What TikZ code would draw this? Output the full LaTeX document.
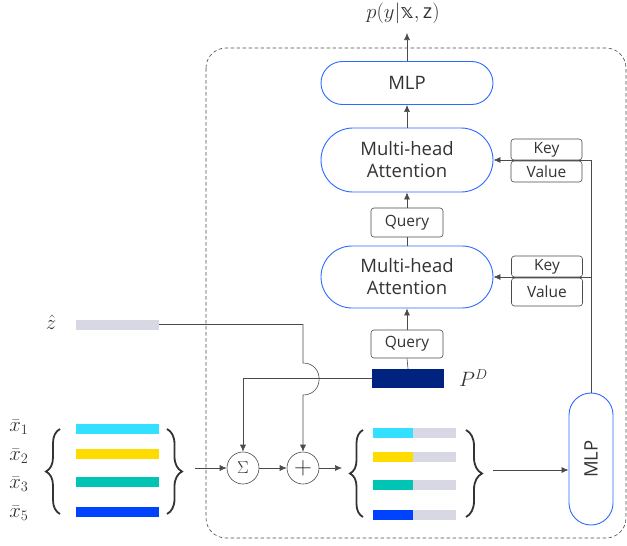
\documentclass[tikz,border=0pt]{standalone}
\usepackage{fontspec}
\setmainfont{Open Sans}
\newfontfamily\dvs{DejaVu Sans}
\usetikzlibrary{arrows.meta,decorations.pathreplacing,calc}
\definecolor{edge}{HTML}{4A4A4A}
\definecolor{blueb}{HTML}{2B6BFF}
\definecolor{txt}{HTML}{333333}
\definecolor{zgray}{HTML}{D8D8E4}
\definecolor{cA}{HTML}{33E0FF}
\definecolor{cB}{HTML}{FFDC00}
\definecolor{cC}{HTML}{00C4B4}
\definecolor{cD}{HTML}{0043FF}
\definecolor{navy}{HTML}{00237F}
\tikzset{
  pill/.style={draw=blueb, line width=0.9pt, fill=white, rounded corners=#1, text=txt, align=center, inner sep=0pt, font=\fontsize{18.5}{22}\selectfont},
  smallbox/.style={draw=edge, line width=0.6pt, rounded corners=3pt, fill=white, minimum width=71pt, inner sep=0pt, text=txt, font=\fontsize{15.5}{17}\selectfont},
  arr/.style={draw=edge, line width=0.6pt, -{Latex[length=7pt,width=6pt]}},
  ln/.style={draw=edge, line width=0.6pt},
  bar/.style={draw=none, inner sep=0pt, minimum height=10pt},
  mlabel/.style={text=txt, inner sep=0pt, font=\fontsize{20}{22}\selectfont},
  op/.style={circle, draw=edge, line width=0.6pt, minimum size=32pt, inner sep=0pt, text=txt, fill=white},
  brc/.style={draw=txt, line width=1.8pt, decorate, decoration={brace, amplitude=#1}},
  frame/.style={draw=edge, line width=0.6pt, dash pattern=on 3.5pt off 2.5pt, rounded corners=20pt}
}
\begin{document}
\begin{tikzpicture}[x=1pt,y=-1pt]
\useasboundingbox (0,0) rectangle (627,546);
% frame
\draw[frame] (206,48) rectangle (626,538);
% right column
\node[pill=21.5pt, minimum width=172pt, minimum height=43pt] (mlp) at (407,83) {MLP};
\node[pill=32pt, minimum width=172pt, minimum height=64pt] (mha1) at (407,160) {Multi-head\\Attention};
\node[pill=31pt, minimum width=172pt, minimum height=62pt] (mha2) at (407,277) {Multi-head\\Attention};
\node[smallbox, minimum width=72pt, minimum height=29pt] (query1) at (407,222.5) {Query};
\node[smallbox, minimum width=72pt, minimum height=28pt] (query2) at (407,344) {Query};
\node[bar, fill=navy, minimum width=72pt, minimum height=19pt] (pd) at (408,378.5) {};
\node[mlabel, anchor=west, font=\fontsize{22}{24}\selectfont] (pdl) at (459,378) {$P^D$};
\node[mlabel] (out) at (403,13) {$p(y|\hbox{\dvs 𝕩},\mathrm{z})$};
\coordinate (otip) at (407,33);
\node[pill=22pt, minimum width=44pt, minimum height=132pt] (mlp2) at (591,459) {\rotatebox{90}{MLP}};
% vertical connectors
\draw[arr] (mlp.north) -- (otip);
\draw[arr] (mha1.north) -- (mlp.south);
\draw[arr] (query1.north) -- (mha1.south);
\draw[ln] (mha2.north) -- (query1.south);
\draw[arr] (query2.north) -- (mha2.south);
\draw[ln] (pd.north) -- (query2.south);
% key/value feeds
\draw[arr] (mlp2.north) |- (mha1.east);
\draw[arr] (mlp2.north |- mha2.east) -- (mha2.east);
\node[smallbox, minimum height=21pt] (key1) at (546.5,149.5) {Key};
\node[smallbox, minimum height=21pt] (val1) at (546.5,171.5) {Value};
\node[smallbox, minimum height=21pt] (key2) at (547,266.5) {Key};
\node[smallbox, minimum height=28pt] (val2) at (547,292) {Value};
% z hat
\node[mlabel] (zl) at (51,322) {$\hat{z}$};
\node[bar, fill=zgray, minimum width=83pt] (zbar) at (117.5,324.5) {};
% operators
\node[op, font=\fontsize{16}{18}\selectfont] (sig) at (243,468) {$\Sigma$};
\node[op, font=\fontsize{30}{32}\selectfont] (plus) at (303,468) {$+$};
\coordinate (jA) at (303,363);
\coordinate (jB) at (303,395);
\draw[arr] (zbar.east) -| (jA) .. controls (324.5,363) and (324.5,395) .. (jB) -- (plus.north);
\draw[arr] (pd.west) -| (sig.north);
\draw[arr] (sig.east) -- (plus.west);
% left group
\node[mlabel] (x1) at (19,427) {$\bar{x}_1$};
\node[mlabel] (x2) at (19,456) {$\bar{x}_2$};
\node[mlabel] (x3) at (19,484) {$\bar{x}_3$};
\node[mlabel] (x5) at (19,513) {$\bar{x}_5$};
\node[bar, fill=cA, minimum width=83pt] (b1) at (117,429) {};
\node[bar, fill=cB, minimum width=83pt] (b2) at (117,454) {};
\node[bar, fill=cC, minimum width=83pt] (b3) at (117,482) {};
\node[bar, fill=cD, minimum width=83pt] (b4) at (117,512) {};
\draw[brc=14pt] (60,514) -- (60,429);
\draw[brc=15pt] (167,429) -- (167,514);
\coordinate (lgo) at (195,468);
\draw[arr] (lgo) -- (sig.west);
% right group
\node[bar, fill=zgray, minimum width=83pt] (g1) at (414.5,433) {};
\node[bar, fill=zgray, minimum width=83pt] (g2) at (414.5,457) {};
\node[bar, fill=zgray, minimum width=83pt] (g3) at (414.5,485) {};
\node[bar, fill=zgray, minimum width=83pt] (g4) at (414.5,515) {};
\node[bar, fill=cA, minimum width=40pt, anchor=west] (r1) at (g1.west) {};
\node[bar, fill=cB, minimum width=40pt, anchor=west] (r2) at (g2.west) {};
\node[bar, fill=cC, minimum width=40pt, anchor=west] (r3) at (g3.west) {};
\node[bar, fill=cD, minimum width=40pt, anchor=west] (r4) at (g4.west) {};
\draw[brc=13pt] (363,517) -- (363,430);
\draw[brc=16pt] (466,430) -- (466,517);
\coordinate (rgi) at (342,468);
\draw[arr] (plus.east) -- (rgi);
\coordinate (rgo) at (493,470);
\draw[arr] (rgo) -- (rgo -| mlp2.west);
\end{tikzpicture}
\end{document}
